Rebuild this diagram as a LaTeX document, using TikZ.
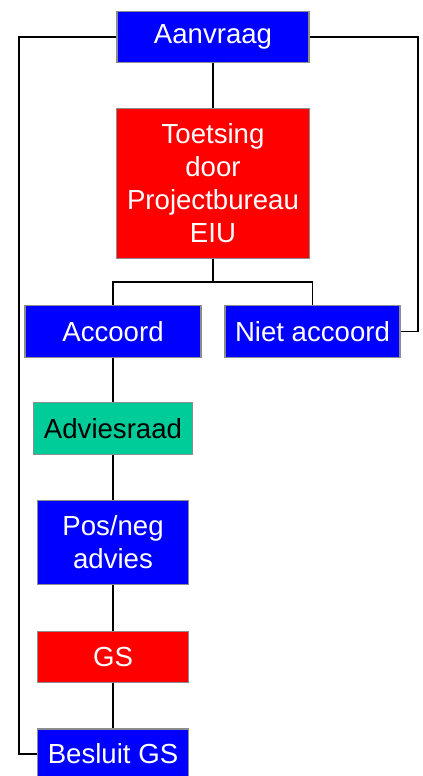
\documentclass[tikz,border=0pt]{standalone}
\usepackage{fontspec}
\setmainfont{Liberation Sans}
\begin{document}
\begin{tikzpicture}[x=0.75pt,y=-0.75pt,
  box/.style={draw=gray!90,line width=1pt,inner sep=0pt,align=center,
    font=\fontsize{20.7pt}{24.75pt}\selectfont,text=white},
  conn/.style={draw=black,line width=1.1pt}]
\clip (0,0) rectangle (422,776);
\definecolor{gblue}{HTML}{0000FF}
\definecolor{gred}{HTML}{FF0000}
\definecolor{ggreen}{HTML}{00CC99}
\node[box,fill=gblue,minimum width=192*0.75pt,minimum height=51*0.75pt] (aan) at (213,37) {Aanvraag};
\node[box,fill=gred,minimum width=193*0.75pt,minimum height=150*0.75pt] (toe) at (213,183.5) {Toetsing\\door\\Projectbureau\\EIU};
\node[box,fill=gblue,minimum width=176*0.75pt,minimum height=52*0.75pt] (acc) at (113,331.5) {Accoord};
\node[box,fill=gblue,minimum width=175*0.75pt,minimum height=52*0.75pt] (niet) at (312.5,331.5) {Niet accoord};
\node[box,fill=ggreen,text=black,minimum width=159*0.75pt,minimum height=52*0.75pt] (adv) at (113,428.5) {Adviesraad};
\node[box,fill=gblue,minimum width=151*0.75pt,minimum height=84*0.75pt] (pos) at (113,542.5) {Pos/neg\\advies};
\node[box,fill=gred,minimum width=151*0.75pt,minimum height=51*0.75pt] (gs) at (113,657) {GS};
\node[box,fill=gblue,minimum width=151*0.75pt,minimum height=50*0.75pt] (bes) at (113,754) {Besluit GS};
\coordinate (br) at (213,282);
\coordinate (rt) at (418,331.5);
\coordinate (lt) at (19,37);
\draw[conn] (aan.south) -- (toe.north);
\draw[conn] (toe.south) -- (br);
\draw[conn] (br) -| (acc.north);
\draw[conn] (br) -| (niet.north);
\draw[conn] (niet.east) -- (rt) |- (aan.east);
\draw[conn] (aan.west) -- (lt) |- (bes.west);
\draw[conn] (acc.south) -- (adv.north);
\draw[conn] (adv.south) -- (pos.north);
\draw[conn] (pos.south) -- (gs.north);
\draw[conn] (gs.south) -- (bes.north);
\end{tikzpicture}
\end{document}
